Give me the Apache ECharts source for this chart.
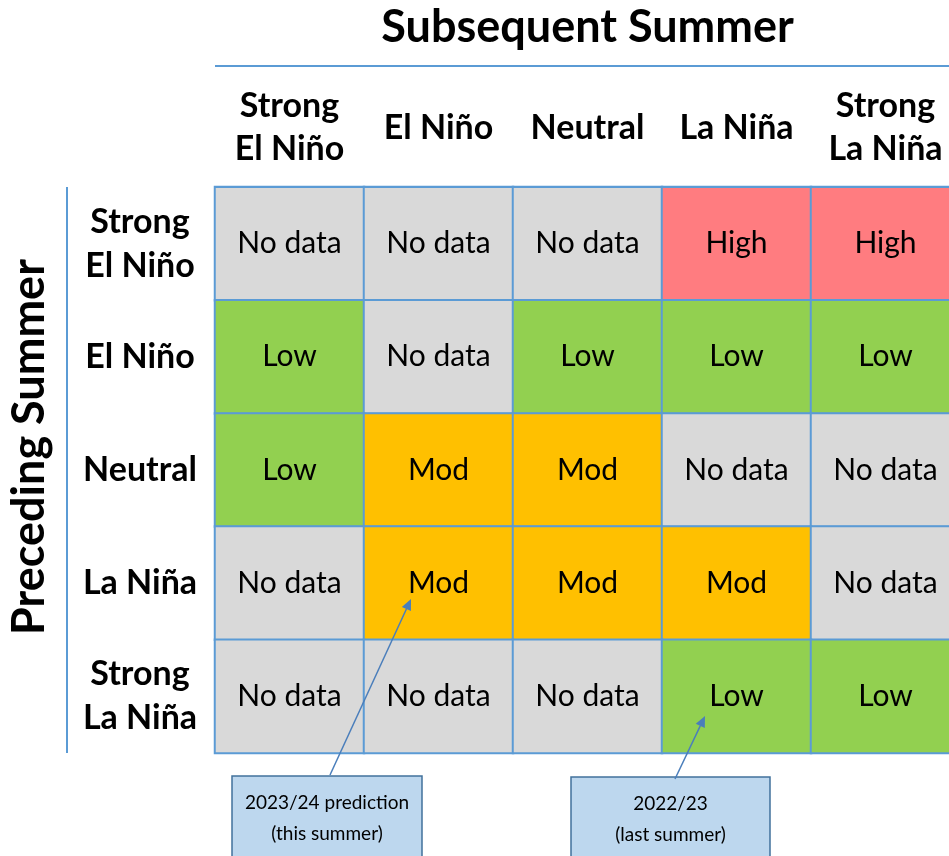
<html>
<head>
    <meta http-equiv="content-type" content="text/html; charset=utf-8">
    <title>Subsequent vs Preceding Summer</title>
    <script src="https://cdn.jsdelivr.net/npm/echarts@6/dist/echarts.min.js"></script>
    <style>
        body { margin: 0; background: #fff; }
        #chart { width: 949px; height: 856px; }
    </style>
</head>
<body>
    <div id="chart"></div>
    <script type="text/javascript">
        // columns = subsequent summer, rows = preceding summer
        var subsequent = ['Strong\nEl Niño', 'El Niño', 'Neutral', 'La Niña', 'Strong\nLa Niña'];
        var preceding = ['Strong\nEl Niño', 'El Niño', 'Neutral', 'La Niña', 'Strong\nLa Niña'];
        var levels = ['No data', 'Low', 'Mod', 'High'];
        var levelColors = ['#d9d9d9', '#92d050', '#ffc000', '#ff7c80'];

        // one array per preceding-summer row, values are level indexes
        var rowStrongElNino = [0, 0, 0, 3, 3];
        var rowElNino = [1, 0, 1, 1, 1];
        var rowNeutral = [1, 2, 2, 0, 0];
        var rowLaNina = [0, 2, 2, 2, 0];
        var rowStrongLaNina = [0, 0, 0, 1, 1];
        var rows = [rowStrongElNino, rowElNino, rowNeutral, rowLaNina, rowStrongLaNina];

        var data = [];
        for (var r = 0; r < rows.length; r++) {
            for (var c = 0; c < rows[r].length; c++) {
                data.push([c, r, rows[r][c]]);
            }
        }

        var font = 'Lato, "Open Sans", sans-serif';
        var blue = '#5b9bd5';
        var arrowBlue = '#4a7ebb';

        function arrow(x1, y1, x2, y2) {
            var a = Math.atan2(y2 - y1, x2 - x1), len = 11, w = 5;
            var bx = x2 - len * Math.cos(a), by = y2 - len * Math.sin(a);
            return [
                { type: 'line', z: 100, shape: { x1: x1, y1: y1, x2: bx, y2: by },
                  style: { stroke: arrowBlue, lineWidth: 1.5 } },
                { type: 'polygon', z: 100, shape: { points: [
                    [x2, y2],
                    [bx + w * Math.sin(a), by - w * Math.cos(a)],
                    [bx - w * Math.sin(a), by + w * Math.cos(a)]
                  ] }, style: { fill: arrowBlue } }
            ];
        }

        function note(x, y, w, h, text) {
            return {
                type: 'group', z: 100, children: [
                    { type: 'rect', shape: { x: x, y: y, width: w, height: h },
                      style: { fill: '#bdd7ee', stroke: '#41719c', lineWidth: 1.5 } },
                    { type: 'text', x: x + w / 2, y: y + 42,
                      style: { text: text, font: '19px ' + font, fill: '#000',
                               align: 'center', verticalAlign: 'middle', lineHeight: 31 } }
                ]
            };
        }

        var chart = echarts.init(document.getElementById('chart'));
        chart.setOption({
            animation: false,
            grid: { left: 215, top: 187, right: -11, bottom: 103, outerBoundsMode: 'none', containLabel: false },
            xAxis: {
                type: 'category', data: subsequent, position: 'top',
                name: 'Subsequent Summer', nameLocation: 'middle', nameGap: 137,
                nameTextStyle: { fontFamily: font, fontWeight: 'bold', fontSize: 45, color: '#000' },
                axisLine: { show: false }, axisTick: { show: false }, splitLine: { show: false },
                axisLabel: { fontFamily: font, fontWeight: 'bold', fontSize: 34, color: '#000',
                             lineHeight: 43, margin: 59, verticalAlign: 'middle', interval: 0 }
            },
            yAxis: {
                type: 'category', data: preceding, inverse: true,
                name: 'Preceding Summer', nameLocation: 'middle', nameGap: 163, nameRotate: 90,
                nameTextStyle: { fontFamily: font, fontWeight: 'bold', fontSize: 45, color: '#000',
                                 padding: [0, 0, 0, 46] },
                axisLine: { show: false }, axisTick: { show: false }, splitLine: { show: false },
                axisLabel: { fontFamily: font, fontWeight: 'bold', fontSize: 34, color: '#000',
                             lineHeight: 44, margin: 75, align: 'center', interval: 0 }
            },
            visualMap: {
                type: 'piecewise', show: false, dimension: 2,
                pieces: levels.map(function (l, i) { return { value: i, color: levelColors[i] }; })
            },
            series: [{
                type: 'heatmap',
                data: data,
                itemStyle: { borderColor: blue, borderWidth: 2 },
                label: {
                    show: true, fontFamily: font, fontSize: 30, color: '#000',
                    formatter: function (p) { return levels[p.value[2]]; }
                },
                emphasis: { disabled: true }
            }],
            graphic: [
                { type: 'line', shape: { x1: 215, y1: 66, x2: 949, y2: 66 },
                  style: { stroke: blue, lineWidth: 2 } },
                { type: 'line', shape: { x1: 67, y1: 187, x2: 67, y2: 753 },
                  style: { stroke: blue, lineWidth: 2 } },
                { type: 'rect', z: 100, shape: { x: 215, y: 186, width: 734, height: 2 },
                  style: { fill: blue } },
                note(232, 776, 190, 90, '2023/24 prediction\n(this summer)'),
                note(571, 777, 199, 90, '2022/23\n(last summer)')
            ].concat(arrow(330, 775, 411, 599)).concat(arrow(675, 779, 705, 716))
        });
    </script>
</body>
</html>
